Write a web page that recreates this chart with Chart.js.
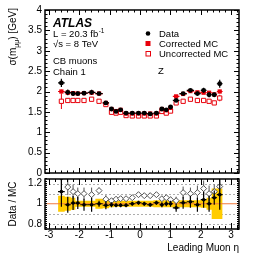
<!DOCTYPE html>
<html lang="en">
<head>
  <meta charset="UTF-8">
  <title>Muon resolution</title>
  <script src="https://cdn.jsdelivr.net/npm/chart.js"></script>
  <style>
    body { margin: 0; background: #fff; }
    #wrap { position: relative; width: 266px; height: 255px; }
    canvas { position: absolute; left: 0; }
  </style>
</head>
<body>
<div id="wrap">
  <canvas id="mainChart" width="266" height="184" style="top:0"></canvas>
  <canvas id="ratioChart" width="266" height="87" style="top:168px"></canvas>
</div>
<script>
// bin edges in leading muon eta
const etaEdges = [-2.70, -2.48, -2.28, -2.13, -1.97, -1.72, -1.47, -1.23, -1.02, -0.86, -0.72, -0.56, -0.36, -0.15,
  0.05, 0.23, 0.44, 0.64, 0.80, 0.93, 1.08, 1.30, 1.54, 1.78, 2.00, 2.19, 2.36, 2.53, 2.72];

// sigma(m_mumu) [GeV]
const sigmaData   = [2.21, 1.98, 1.95, 1.95, 1.96, 1.98, 1.95, 1.72, 1.57, 1.51, 1.55, 1.47, 1.47, 1.47,
  1.47, 1.45, 1.47, 1.57, 1.55, 1.62, 1.78, 1.95, 2.03, 1.95, 2.03, 1.92, 1.92, 2.19];
const errData     = [0.10, 0.07, 0.06, 0.05, 0.05, 0.06, 0.03, 0.04, 0.03, 0.03, 0.03, 0.03, 0.03, 0.03,
  0.03, 0.03, 0.03, 0.03, 0.03, 0.03, 0.04, 0.04, 0.03, 0.05, 0.06, 0.06, 0.05, 0.10];
const sigmaCorr   = [2.00, 1.97, 1.96, 1.95, 1.96, 1.97, 1.95, 1.72, 1.57, 1.52, 1.55, 1.46, 1.46, 1.46,
  1.46, 1.46, 1.46, 1.57, 1.54, 1.60, 1.88, 1.94, 2.01, 1.98, 1.97, 1.97, 1.93, 2.00];
const errCorr     = [0.04, 0.02, 0.02, 0.02, 0.02, 0.02, 0.02, 0.02, 0.02, 0.02, 0.02, 0.02, 0.02, 0.02,
  0.02, 0.02, 0.02, 0.02, 0.02, 0.02, 0.02, 0.02, 0.02, 0.02, 0.02, 0.02, 0.02, 0.04];
const sigmaUncorr = [1.76, 1.78, 1.78, 1.78, 1.78, 1.81, 1.76, 1.68, 1.49, 1.47, 1.49, 1.41, 1.40, 1.40,
  1.40, 1.40, 1.40, 1.51, 1.47, 1.52, 1.72, 1.76, 1.81, 1.78, 1.78, 1.76, 1.72, 1.84];
const errUncorr   = [0.19, 0.03, 0.02, 0.02, 0.02, 0.02, 0.02, 0.02, 0.02, 0.02, 0.02, 0.02, 0.02, 0.02,
  0.02, 0.02, 0.02, 0.02, 0.02, 0.02, 0.02, 0.02, 0.02, 0.02, 0.02, 0.02, 0.02, 0.08];

// Data / MC
const ratioCorr   = [1.12, 0.99, 1.007, 1.007, 0.99, 0.99, 1.00, 0.985, 0.99, 0.985, 0.985, 0.985, 1.00, 1.01,
  1.00, 0.99, 1.01, 0.99, 1.00, 1.00, 0.96, 1.01, 1.02, 0.99, 1.04, 1.00, 1.06, 1.09];
const errRatio    = [0.15, 0.08, 0.07, 0.06, 0.06, 0.07, 0.03, 0.04, 0.025, 0.02, 0.02, 0.02, 0.02, 0.02,
  0.02, 0.02, 0.02, 0.025, 0.025, 0.03, 0.04, 0.06, 0.06, 0.07, 0.08, 0.08, 0.07, 0.15];
const ratioUncorr = [1.26, 1.165, 1.12, 1.10, 1.10, 1.09, 1.13, 1.045, 1.03, 1.045, 1.05, 1.05, 1.06, 1.09,
  1.08, 1.08, 1.09, 1.05, 1.06, 1.04, 1.03, 1.11, 1.10, 1.11, 1.15, 1.10, 1.12, 1.17];
const errRatioU   = [0.15, 0.08, 0.07, 0.06, 0.06, 0.07, 0.03, 0.04, 0.025, 0.02, 0.02, 0.02, 0.02, 0.02,
  0.02, 0.02, 0.02, 0.025, 0.025, 0.03, 0.04, 0.06, 0.06, 0.07, 0.08, 0.08, 0.07, 0.15];
// systematic band half width around 1
const sysBand     = [0.15, 0.08, 0.07, 0.06, 0.03, 0.03, 0.03, 0.05, 0.045, 0.035, 0.03, 0.03, 0.03, 0.03,
  0.03, 0.03, 0.03, 0.035, 0.035, 0.035, 0.035, 0.035, 0.035, 0.035, 0.035, 0.04, 0.06, 0.15];

const xTicks = [-3, -2, -1, 0, 1, 2, 3];
const ratioTicks = [0.8, 0.9, 1, 1.1, 1.2];
const X_MIN = -3.13, X_MAX = 3.26;
const FONT = "'Liberation Sans', Arial, sans-serif";

const centers = etaEdges.slice(0, -1).map((e, i) => (e + etaEdges[i + 1]) / 2);
const halfW = etaEdges.slice(0, -1).map((e, i) => (etaEdges[i + 1] - e) / 2);
const pts = vals => vals.map((v, i) => ({ x: centers[i], y: v }));
const stepPts = vals => etaEdges.map((e, i) => ({ x: e, y: vals[Math.min(i, vals.length - 1)] }));

// error bars drawn just before each dataset's markers
const errorBars = {
  id: 'errorBars',
  beforeDatasetDraw(chart, args) {
    const ds = chart.data.datasets[args.index];
    if (!ds.errY) return;
    const { ctx, chartArea: a, scales: { x, y } } = chart;
    ctx.save();
    ctx.beginPath(); ctx.rect(a.left, a.top, a.width, a.height); ctx.clip();
    ctx.strokeStyle = ds.errColor; ctx.lineWidth = ds.errWidth || 1.2;
    ds.data.forEach((p, i) => {
      const px = x.getPixelForValue(p.x), py = y.getPixelForValue(p.y);
      ctx.beginPath();
      ctx.moveTo(px, y.getPixelForValue(p.y + ds.errY[i]));
      ctx.lineTo(px, y.getPixelForValue(p.y - ds.errY[i]));
      if (ds.errX) {
        ctx.moveTo(x.getPixelForValue(p.x - halfW[i]), py);
        ctx.lineTo(x.getPixelForValue(p.x + halfW[i]), py);
      }
      ctx.stroke();
    });
    ctx.restore();
  }
};

// ROOT style frame with inner ticks
function framePlugin(opt) {
  return {
    id: 'frame',
    afterDraw(chart) {
      const { ctx, chartArea: a, scales: { x, y } } = chart;
      ctx.save();
      ctx.strokeStyle = '#000'; ctx.lineWidth = 1;
      ctx.beginPath();
      for (let v = Math.ceil(X_MIN / 0.2) * 0.2; v <= X_MAX; v += 0.2) {
        const major = Math.abs(v - Math.round(v)) < 1e-6;
        const len = major ? opt.xMajor : opt.xMajor / 2;
        const px = Math.round(x.getPixelForValue(v)) + 0.5;
        ctx.moveTo(px, a.bottom); ctx.lineTo(px, a.bottom - len);
        ctx.moveTo(px, a.top); ctx.lineTo(px, a.top + len);
      }
      const n = Math.round((opt.yMax - opt.yMin) / opt.yMinor);
      for (let k = 0; k <= n; k++) {
        const v = opt.yMin + k * opt.yMinor;
        const major = Math.abs(v / opt.yStep - Math.round(v / opt.yStep)) < 1e-6;
        const len = major ? opt.yMajor : opt.yMajor / 2;
        const py = Math.round(y.getPixelForValue(v)) + 0.5;
        ctx.moveTo(a.left, py); ctx.lineTo(a.left + len, py);
        ctx.moveTo(a.right, py); ctx.lineTo(a.right - len, py);
      }
      ctx.stroke();
      ctx.lineWidth = 1.5;
      ctx.strokeRect(a.left, a.top, a.width, a.height);
      ctx.restore();
      if (opt.text) opt.text(chart);
    }
  };
}

function drawMainText(chart) {
  const ctx = chart.ctx;
  ctx.save();
  ctx.fillStyle = '#000';
  ctx.textBaseline = 'alphabetic';
  ctx.font = `bold italic 12px ${FONT}`;
  ctx.fillText('ATLAS', 53, 27);
  ctx.font = `9.5px ${FONT}`;
  ctx.fillText('L = 20.3 fb', 53, 37);
  let w = ctx.measureText('L = 20.3 fb').width;
  ctx.font = `6.5px ${FONT}`;
  ctx.fillText('-1', 53 + w + 0.5, 33);
  ctx.font = `9.5px ${FONT}`;
  ctx.fillText('\u221As = 8 TeV', 53, 47);
  ctx.fillText('CB muons', 53, 64);
  ctx.fillText('Chain 1', 53, 75);
  ctx.fillText('Z', 158, 74);
  // legend
  const rows = ['Data', 'Corrected MC', 'Uncorrected MC'];
  rows.forEach((t, i) => ctx.fillText(t, 159, 37 + i * 10));
  ctx.beginPath(); ctx.arc(148, 33.5, 2.3, 0, Math.PI * 2); ctx.fill();
  ctx.fillStyle = '#e8000b'; ctx.fillRect(145.5, 41, 5, 5);
  ctx.strokeStyle = '#e8000b'; ctx.lineWidth = 1; ctx.strokeRect(146, 51.5, 4.5, 4.5);
  // y title
  ctx.fillStyle = '#000';
  ctx.translate(16, 8); ctx.rotate(-Math.PI / 2);
  ctx.font = `10px ${FONT}`;
  const p1 = '\u03C3(m', p3 = ') [GeV]';
  const w1 = ctx.measureText(p1).width, w3 = ctx.measureText(p3).width;
  ctx.font = `7px ${FONT}`;
  const w2 = ctx.measureText('\u03BC\u03BC').width;
  let sx = -(w1 + w2 + w3);
  ctx.font = `10px ${FONT}`; ctx.fillText(p1, sx, 0);
  ctx.font = `7px ${FONT}`; ctx.fillText('\u03BC\u03BC', sx + w1, 3);
  ctx.font = `10px ${FONT}`; ctx.fillText(p3, sx + w1 + w2, 0);
  ctx.restore();
}

function drawRatioText(chart) {
  const ctx = chart.ctx;
  const a = chart.chartArea;
  ctx.save();
  ctx.fillStyle = '#000';
  ctx.font = `10px ${FONT}`;
  ctx.textAlign = 'right';
  ctx.fillText('Leading Muon \u03B7', a.right, a.bottom + 22);
  ctx.textAlign = 'center';
  ctx.translate(16, (a.top + a.bottom) / 2); ctx.rotate(-Math.PI / 2);
  ctx.fillText('Data / MC', 0, 0);
  ctx.restore();
}

const dashedGrid = {
  id: 'dashedGrid',
  beforeDatasetsDraw(chart) {
    const { ctx, chartArea: a, scales: { y } } = chart;
    ctx.save();
    ctx.strokeStyle = '#999'; ctx.lineWidth = 0.8; ctx.setLineDash([2, 2]);
    [0.8, 0.9, 1.1, 1.2].forEach(v => {
      const py = Math.round(y.getPixelForValue(v)) + 0.5;
      ctx.beginPath(); ctx.moveTo(a.left, py); ctx.lineTo(a.right, py); ctx.stroke();
    });
    ctx.restore();
  }
};

const tickFont = { family: FONT, size: 10 };
const fmt = v => String(+v.toFixed(2));

new Chart(document.getElementById('mainChart'), {
  type: 'scatter',
  data: {
    datasets: [
      { data: pts(sigmaData), errY: errData, errX: true, errColor: '#000', order: 0,
        pointStyle: 'circle', pointRadius: 2.4, backgroundColor: '#000', borderColor: '#000', borderWidth: 0 },
      { data: pts(sigmaCorr), errY: errCorr, errX: true, errColor: '#e8000b', order: 1,
        pointStyle: 'rect', pointRadius: 3, backgroundColor: '#e8000b', borderColor: '#e8000b', borderWidth: 0 },
      { data: pts(sigmaUncorr), errY: errUncorr, errX: false, errColor: '#e8000b', errWidth: 1, order: 2,
        pointStyle: 'rect', pointRadius: 3, backgroundColor: '#fff', borderColor: '#e8000b', borderWidth: 1 }
    ]
  },
  options: {
    responsive: false, animation: false, devicePixelRatio: 1,
    layout: { padding: { left: 0, right: 27, top: 10, bottom: 11 } },
    plugins: { legend: { display: false }, tooltip: { enabled: false } },
    scales: {
      x: { type: 'linear', min: X_MIN, max: X_MAX, display: false },
      y: {
        min: 0, max: 4,
        grid: { display: false, drawTicks: false }, border: { display: false },
        ticks: { stepSize: 0.5, font: tickFont, color: '#000', padding: 3, callback: fmt },
        afterFit: s => { s.width = 45; }
      }
    }
  },
  plugins: [errorBars, framePlugin({ xMajor: 5, yMajor: 5, yMin: 0, yMax: 4, yStep: 0.5, yMinor: 0.1, text: drawMainText })]
});

new Chart(document.getElementById('ratioChart'), {
  type: 'scatter',
  data: {
    datasets: [
      { data: pts(ratioCorr), errY: errRatio, errX: true, errColor: '#000', order: 0,
        pointStyle: 'circle', pointRadius: 1.8, backgroundColor: '#000', borderWidth: 0 },
      { data: pts(ratioUncorr), errY: errRatioU, errX: false, errColor: '#555', errWidth: 1, order: 1,
        pointStyle: 'rectRot', pointRadius: 3, backgroundColor: '#fff', borderColor: '#555', borderWidth: 1 },
      { type: 'line', data: [{ x: X_MIN, y: 1 }, { x: X_MAX, y: 1 }], order: 3,
        borderColor: '#f07a3c', borderWidth: 1.2, pointRadius: 0 },
      { type: 'line', data: stepPts(sysBand.map(s => 1 + s)), stepped: 'after', order: 4,
        borderWidth: 0, pointRadius: 0, fill: false },
      { type: 'line', data: stepPts(sysBand.map(s => 1 - s)), stepped: 'after', order: 5,
        borderWidth: 0, pointRadius: 0, fill: '-1', backgroundColor: '#ffcc00' }
    ]
  },
  options: {
    responsive: false, animation: false, devicePixelRatio: 1,
    layout: { padding: { left: 0, right: 27, top: 11, bottom: 0 } },
    plugins: { legend: { display: false }, tooltip: { enabled: false } },
    scales: {
      x: {
        type: 'linear', min: X_MIN, max: X_MAX,
        grid: { display: false, drawTicks: false }, border: { display: false },
        afterBuildTicks: s => { s.ticks = xTicks.map(v => ({ value: v })); },
        ticks: { font: tickFont, color: '#000', padding: 0, callback: fmt, maxRotation: 0 },
        afterFit: s => { s.height = 26; }
      },
      y: {
        min: 0.75, max: 1.245,
        grid: { display: false, drawTicks: false }, border: { display: false },
        afterBuildTicks: s => { s.ticks = ratioTicks.map(v => ({ value: v })); },
        ticks: { font: tickFont, color: '#000', padding: 3, callback: fmt },
        afterFit: s => { s.width = 45; }
      }
    }
  },
  plugins: [dashedGrid, errorBars, framePlugin({ xMajor: 6, yMajor: 4, yMin: 0.75, yMax: 1.245, yStep: 0.1, yMinor: 0.02, text: drawRatioText })]
});
</script>
</body>
</html>
